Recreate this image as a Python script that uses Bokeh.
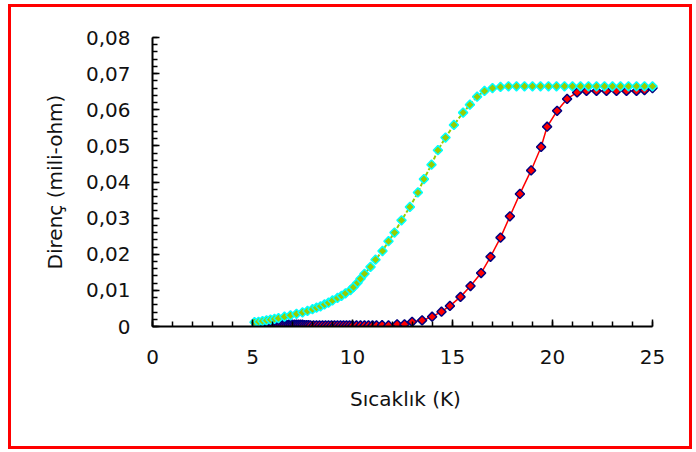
import numpy as np
from bokeh.plotting import figure
from bokeh.layouts import column
from bokeh.models import Range1d, FixedTicker
from bokeh.embed import file_html
from bokeh.resources import INLINE

# ---- data ----
green_x = [5.1, 5.3, 5.5, 5.7, 5.9, 6.1, 6.3, 6.6, 6.9, 7.2, 7.5, 7.75, 8.0, 8.2, 8.4,
           8.6, 8.8, 9.0, 9.25, 9.45, 9.65, 9.9, 10.05, 10.25, 10.4, 10.6, 10.9, 11.15,
           11.5, 11.8, 12.1, 12.45, 12.87, 13.27, 13.57, 13.95, 14.27, 14.65, 15.07,
           15.53, 15.87, 16.23, 16.6, 17.0, 17.4, 17.8, 18.2, 18.6, 19.0, 19.4, 19.8,
           20.2, 20.6, 21.0, 21.4, 21.8, 22.2, 22.6, 23.0, 23.4, 23.8, 24.2, 24.6, 25.0]
green_y = [0.0012, 0.0013, 0.0015, 0.0017, 0.0019, 0.0021, 0.0023, 0.0027, 0.0031, 0.0035,
           0.0039, 0.0043, 0.0048, 0.0052, 0.0056, 0.0061, 0.0066, 0.0072, 0.0079, 0.0085,
           0.0092, 0.0101, 0.0109, 0.0121, 0.0132, 0.0146, 0.0165, 0.0185, 0.0209, 0.0236,
           0.0260, 0.0294, 0.0331, 0.0371, 0.0408, 0.0448, 0.0488, 0.0523, 0.0558, 0.0592,
           0.0614, 0.0636, 0.0652, 0.0660, 0.0663, 0.0665, 0.0665, 0.0665, 0.0665, 0.0665,
           0.0665, 0.0665, 0.0665, 0.0665, 0.0665, 0.0665, 0.0665, 0.0665, 0.0665, 0.0665,
           0.0665, 0.0665, 0.0665, 0.0665]

red_x = [5.6, 5.7, 5.8, 5.9, 6.0, 6.1, 6.2, 6.3, 6.4, 6.5, 6.6, 6.7, 6.8, 6.9, 7.0, 7.1,
         7.2, 7.3, 7.4, 7.5, 7.6, 7.7, 7.8, 7.9, 8.05, 8.2, 8.35, 8.5, 8.65, 8.8, 8.95,
         9.1, 9.25, 9.4, 9.55, 9.7, 9.85, 10.0, 10.2, 10.4, 10.6, 10.8, 11.0, 11.2, 11.48,
         11.8, 12.23, 12.6, 12.98, 13.48, 13.98, 14.45, 14.87, 15.4, 15.9, 16.43, 16.9,
         17.4, 17.87, 18.37, 18.93, 19.43, 19.73, 20.23, 20.73, 21.23, 21.7, 22.2, 22.7,
         23.2, 23.7, 24.2, 24.6, 25.0]
red_y = [0.0000, 0.0001, 0.0001, 0.0002, 0.0002, 0.0003, 0.0003, 0.0003, 0.0004, 0.0004,
         0.0004, 0.0004, 0.0005, 0.0005, 0.0005, 0.0005, 0.0005, 0.0005, 0.0005, 0.0005,
         0.0004, 0.0004, 0.0004, 0.0003, 0.0003, 0.0003, 0.0003, 0.0003, 0.0003, 0.0003,
         0.0003, 0.0003, 0.0003, 0.0003, 0.0003, 0.0003, 0.0003, 0.0003, 0.0003, 0.0003,
         0.0003, 0.0003, 0.0003, 0.0003, 0.0004, 0.0003, 0.0006, 0.0006, 0.0013, 0.0017,
         0.0027, 0.0041, 0.0057, 0.0082, 0.0112, 0.0148, 0.0193, 0.0246, 0.0305, 0.0367,
         0.0432, 0.0497, 0.0553, 0.0597, 0.0630, 0.0648, 0.0652, 0.0652, 0.0652, 0.0652,
         0.0652, 0.0652, 0.0654, 0.0660]

x_ticks = [0, 5, 10, 15, 20, 25]
y_ticks = [0, 0.01, 0.02, 0.03, 0.04, 0.05, 0.06, 0.07, 0.08]
y_labels = ["0", "0,01", "0,02", "0,03", "0,04", "0,05", "0,06", "0,07", "0,08"]

FONT = "DejaVu Sans"

p = figure(width=678, height=439, output_backend="svg", toolbar_location=None,
           x_range=Range1d(0, 25.3), y_range=Range1d(0, 0.08),
           min_border_left=141, min_border_right=31, min_border_top=30,
           min_border_bottom=120)
p.outline_line_color = None
p.xgrid.visible = False
p.ygrid.visible = False
p.background_fill_color = "white"
p.border_fill_color = "white"

# red series
p.line(red_x, red_y, line_color="#ff0000", line_width=1.5)
p.scatter(red_x, red_y, marker="square", angle=np.pi / 4, size=6.5,
          fill_color="#ff0000", line_color="#000080", line_width=1.5)
# green series
p.line(green_x, green_y, line_color="#99cc00", line_width=2, line_dash="4 2")
p.scatter(green_x, green_y, marker="square", angle=np.pi / 4, size=6.5,
          fill_color="#99cc00", line_color="#00ffff", line_width=1.5)

minor_x = list(np.arange(0, 26, 1.0))
minor_y = list(np.round(np.arange(0, 0.0801, 0.002), 4))

xa = p.xaxis[0]
xa.ticker = FixedTicker(ticks=x_ticks, minor_ticks=minor_x)
xa.bounds = (0, 25)
ya = p.yaxis[0]
ya.ticker = FixedTicker(ticks=y_ticks, minor_ticks=minor_y)
ya.bounds = (0, 0.08)
ya.major_label_overrides = {t: l for t, l in zip(y_ticks, y_labels)}

for ax in (xa, ya):
    ax.axis_line_color = "black"
    ax.axis_line_width = 2
    ax.major_tick_line_color = "black"
    ax.minor_tick_line_color = "black"
    ax.major_tick_line_width = 1.5
    ax.minor_tick_line_width = 1.5
    ax.major_tick_in = 7
    ax.major_tick_out = 0
    ax.minor_tick_in = 5
    ax.minor_tick_out = 0
    ax.major_label_text_font = FONT
    ax.major_label_text_font_size = "20px"
    ax.major_label_text_color = "#111111"
    ax.axis_label_text_font = FONT
    ax.axis_label_text_font_size = "20px"
    ax.axis_label_text_font_style = "normal"
    ax.axis_label_text_color = "#111111"

xa.axis_label = "Sıcaklık (K)"
ya.axis_label = "Direnç (mili-ohm)"
xa.major_label_standoff = 23
ya.major_label_standoff = 22
xa.axis_label_standoff = 20
ya.axis_label_standoff = 16

layout = column(p, styles={"border": "3px solid #ff0000", "margin-left": "8px",
                           "margin-top": "4px", "background-color": "white"})

open("out.html", "w").write(file_html(layout, INLINE))
